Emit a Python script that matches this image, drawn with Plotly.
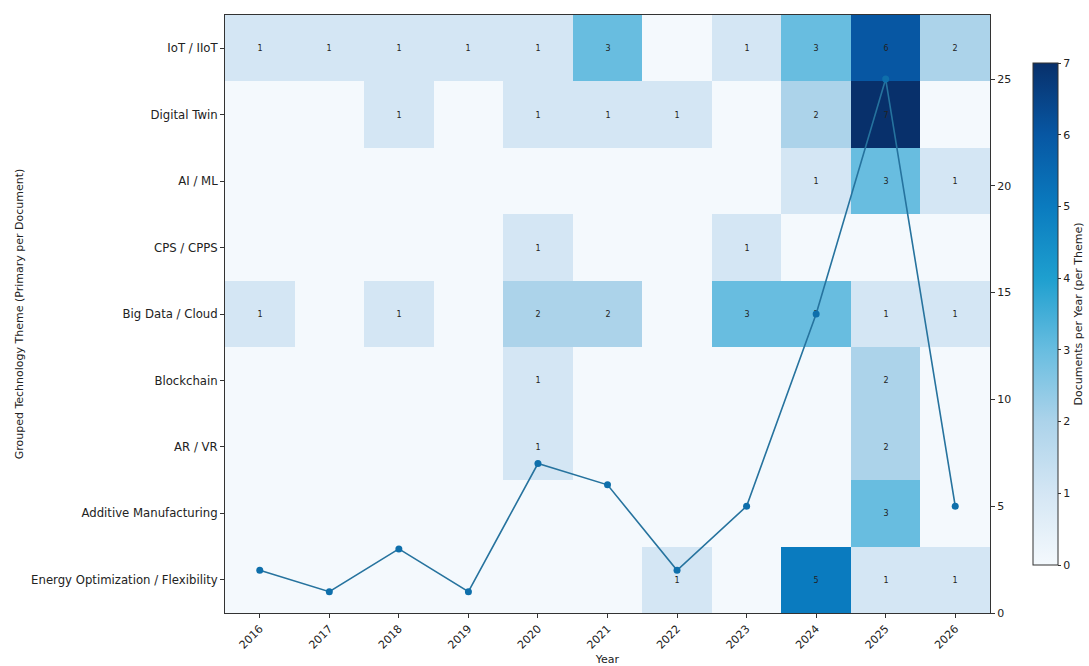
import plotly.graph_objects as go

years = [2016, 2017, 2018, 2019, 2020, 2021, 2022, 2023, 2024, 2025, 2026]
themes = ["IoT / IIoT", "Digital Twin", "AI / ML", "CPS / CPPS", "Big Data / Cloud",
          "Blockchain", "AR / VR", "Additive Manufacturing", "Energy Optimization / Flexibility"]
counts = [
    [1, 1, 1, 1, 1, 3, 0, 1, 3, 6, 2],
    [0, 0, 1, 0, 1, 1, 1, 0, 2, 7, 0],
    [0, 0, 0, 0, 0, 0, 0, 0, 1, 3, 1],
    [0, 0, 0, 0, 1, 0, 0, 1, 0, 0, 0],
    [1, 0, 1, 0, 2, 2, 0, 3, 3, 1, 1],
    [0, 0, 0, 0, 1, 0, 0, 0, 0, 2, 0],
    [0, 0, 0, 0, 1, 0, 0, 0, 0, 2, 0],
    [0, 0, 0, 0, 0, 0, 0, 0, 0, 3, 0],
    [0, 0, 0, 0, 0, 0, 1, 0, 5, 1, 1],
]
totals = [2, 1, 3, 1, 7, 6, 2, 5, 14, 25, 5]

scale_colors = ["#f4f9fd", "#d4e6f4", "#acd3ea", "#68bde0",
                "#1e9fcf", "#0a7bbf", "#0757a3", "#08306b"]
colorscale = [[i / (len(scale_colors) - 1), c] for i, c in enumerate(scale_colors)]

text = [[str(v) if v > 0 else "" for v in row] for row in counts]

font = "DejaVu Sans"
fig = go.Figure()
fig.add_trace(go.Heatmap(
    x=years, y=themes, z=counts, zmin=0, zmax=7,
    colorscale=colorscale,
    text=text, texttemplate="%{text}",
    textfont=dict(size=8, color="#222222", family=font),
    xgap=0, ygap=0,
    colorbar=dict(
        x=1.056, xanchor="left", xpad=0, y=0.5, yanchor="middle", ypad=0,
        len=0.84, lenmode="fraction", thickness=25,
        outlinecolor="#333333", outlinewidth=1,
        tickmode="array", tickvals=list(range(8)),
        ticks="outside", ticklen=3, tickcolor="#333333",
        tickfont=dict(size=11, family=font, color="#222222"),
        title=dict(text="Documents per Year (per Theme)", side="right",
                   font=dict(size=11, family=font, color="#222222")),
    ),
    hoverongaps=False,
))
fig.add_trace(go.Scatter(
    x=years, y=totals, yaxis="y2", mode="lines+markers",
    line=dict(color="#26739e", width=1.6),
    marker=dict(color="#0e6fab", size=7),
    showlegend=False,
))

fig.update_layout(
    width=1089, height=666,
    margin=dict(l=225, r=99, t=15, b=53, autoexpand=False),
    paper_bgcolor="white", plot_bgcolor="white",
    font=dict(family=font, size=11, color="#222222"),
    showlegend=False,
    xaxis=dict(
        tickmode="array", tickvals=years, ticktext=[str(y) for y in years],
        tickangle=-45, range=[2015.5, 2026.5],
        showline=True, linecolor="#333333", linewidth=1, mirror=True,
        ticks="outside", ticklen=4, tickcolor="#333333",
        showgrid=False, zeroline=False,
        tickfont=dict(size=11, family=font),
        title=dict(text="Year", font=dict(size=11, family=font), standoff=4),
    ),
    yaxis=dict(
        autorange="reversed",
        showline=True, linecolor="#333333", linewidth=1, mirror=True,
        ticks="outside", ticklen=4, tickcolor="#333333",
        showgrid=False, zeroline=False,
        tickfont=dict(size=11.7, family=font),
        title=dict(text="Grouped Technology Theme (Primary per Document)",
                   font=dict(size=11, family=font), standoff=5),
    ),
    yaxis2=dict(
        overlaying="y", side="right", range=[0, 28],
        tickmode="array", tickvals=[0, 5, 10, 15, 20, 25],
        ticks="outside", ticklen=4, tickcolor="#333333",
        showgrid=False, zeroline=False, showline=False,
        tickfont=dict(size=11, family=font),
    ),
)

fig.write_html("out.html")
